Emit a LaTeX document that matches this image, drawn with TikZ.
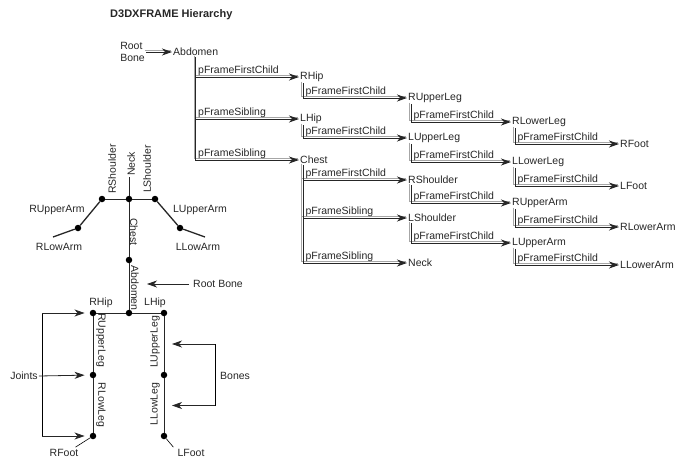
\documentclass[tikz,border=0pt]{standalone}
\usepackage{fontspec}
\setmainfont{Liberation Sans}
\usetikzlibrary{calc,arrows.meta,positioning}

\begin{document}
\begin{tikzpicture}[x=1pt, y=-1pt,
	every node/.style={font=\fontsize{10.5}{12}\selectfont, text=black!85, inner sep=1pt},
	frame/.style={anchor=west},
	lbl/.style={anchor=south west, inner sep=0.5pt, xshift=1.5pt},
	link/.style={draw=black!85, line width=1pt, -{Stealth[length=10pt,width=7pt,inset=3pt]},
		preaction={draw=black!35, line width=0.7pt, -, transform canvas={shift={(-1.4pt,1.4pt)}}}},
	bone/.style={draw=black!85, line width=0.9pt},
	joint/.style={circle, fill=black, inner sep=0pt, minimum size=6.5pt},
	pointer/.style={draw=black!85, line width=0.8pt, -{Stealth[length=10pt,width=7pt,inset=3pt]}}]
	\useasboundingbox (0,0) rectangle (678,458);

	% Title
	\node[anchor=west, font=\bfseries\fontsize{11}{13}\selectfont] (title) at (109,15) {D3DXFRAME Hierarchy};

	% Frame hierarchy
	\node[align=left, anchor=east] (root) at (146,52) {Root\\Bone};
	\node[frame] (abd) at (172,52) {Abdomen};
	\node[frame] (rhip) at (299,77) {RHip};
	\node[frame] (lhip) at (299,119) {LHip};
	\node[frame] (chest) at (299,160) {Chest};
	\node[frame] (rupleg) at (407,98) {RUpperLeg};
	\node[frame] (lupleg) at (407,138) {LUpperLeg};
	\node[frame] (rsho) at (407,180) {RShoulder};
	\node[frame] (lsho) at (407,218) {LShoulder};
	\node[frame] (neck) at (407,263) {Neck};
	\node[frame] (rlowleg) at (511,122) {RLowerLeg};
	\node[frame] (llowleg) at (511,162) {LLowerLeg};
	\node[frame] (ruparm) at (511,203) {RUpperArm};
	\node[frame] (luparm) at (511,243) {LUpperArm};
	\node[frame] (rfoot) at (619,144) {RFoot};
	\node[frame] (lfoot) at (619,186) {LFoot};
	\node[frame] (rlowarm) at (619,227) {RLowerArm};
	\node[frame] (llowarm) at (619,265) {LLowerArm};

	\draw[link] (root.east) -- (abd.west);
	\foreach \c/\l in {rhip/FirstChild, lhip/Sibling, chest/Sibling}
		\draw[link] (abd.south) |- (\c.west) node[lbl, pos=0.5] {pFrame\l};
	\foreach \p/\c/\l in {rhip/rupleg/FirstChild, lhip/lupleg/FirstChild,
		chest/rsho/FirstChild, chest/lsho/Sibling, chest/neck/Sibling,
		rupleg/rlowleg/FirstChild, lupleg/llowleg/FirstChild,
		rsho/ruparm/FirstChild, lsho/luparm/FirstChild,
		rlowleg/rfoot/FirstChild, llowleg/lfoot/FirstChild,
		ruparm/rlowarm/FirstChild, luparm/llowarm/FirstChild}
		\draw[link] ($(\p.south west)+(4,0)$) |- (\c.west) node[lbl, pos=0.5] {pFrame\l};

	% Skeleton joints
	\node[joint] (rsj) at (102,199) {};
	\node[joint] (nkj) at (129,199) {};
	\node[joint] (lsj) at (155,199) {};
	\node[joint] (rej) at (78,228) {};
	\node[joint] (lej) at (180,228) {};
	\node[joint] (chj) at (129,260) {};
	\node[joint] (rhj) at (93,313) {};
	\node[joint] (abj) at (129,313) {};
	\node[joint] (lhj) at (164,313) {};
	\node[joint] (rkj) at (93,375) {};
	\node[joint] (lkj) at (164,375) {};
	\node[joint] (rfj) at (93,436) {};
	\node[joint] (lfj) at (164,436) {};
	\coordinate (ntop) at (129,177);
	\coordinate (rhand) at (53,237);
	\coordinate (lhand) at (205,237);

	% Bones
	\draw[bone] (ntop) -- (nkj) -- (chj) -- (abj);
	\draw[bone] (rsj) -- (nkj) -- (lsj);
	\draw[bone, line width=1.3pt] (rhand) -- (rej) -- (rsj) (lsj) -- (lej) -- (lhand);
	\draw[bone] (rhj) -- (abj) -- (lhj);
	\draw[bone] (rhj) -- (rkj) -- (rfj);
	\draw[bone] (lhj) -- (lkj) -- (lfj);

	% Skeleton labels
	\node[rotate=90] (rsholbl) at (112,169) {RShoulder};
	\node[rotate=90] (necklbl) at (131,164) {Neck};
	\node[rotate=90] (lsholbl) at (147,169) {LShoulder};
	\node (ruparmlbl) at (57,210) {RUpperArm};
	\node (luparmlbl) at (200,210) {LUpperArm};
	\node (rlowarmlbl) at (59,247) {RLowArm};
	\node (llowarmlbl) at (198,247) {LLowArm};
	\node[rotate=-90] (chestlbl) at (134,232) {Chest};
	\node[rotate=-90] (abdlbl) at (135,288) {Abdomen};
	\node (rhiplbl) at (101,303) {RHip};
	\node (lhiplbl) at (155,303) {LHip};
	\node[rotate=-90] (ruplegLbl) at (101,340) {RUpperLeg};
	\node[rotate=-90] (rlowlegLbl) at (101,405) {RLowLeg};
	\node[rotate=90] (luplegLbl) at (155,342) {LUpperLeg};
	\node[rotate=90] (llowlegLbl) at (155,404) {LLowLeg};
	\node (rfootlbl) at (64,453) {RFoot};
	\node (lfootlbl) at (191,453) {LFoot};
	\draw[line width=0.6pt] (rfj) -- ($(rfootlbl.north east)+(-4,-1)$);
	\draw[line width=0.6pt] (lfj) -- ($(lfootlbl.north west)+(-3,-1)$);

	% Root bone pointer
	\node[anchor=west] (rootlbl) at (192,284) {Root Bone};
	\coordinate (abdb) at (129,284);
	\draw[pointer, shorten <=3pt, shorten >=18pt] (rootlbl.west) -- (abdb);

	% Joints bracket
	\node (joints) at (24,376) {Joints};
	\coordinate (jtop) at (42,313);
	\coordinate (jbot) at (42,436);
	\draw[line width=0.8pt] (jtop) -- (jbot);
	\draw[pointer, shorten >=5pt] (jtop) -- (rhj);
	\draw[pointer, shorten >=5pt] (joints.east) -- (rkj);
	\draw[pointer, shorten >=5pt] (jbot) -- (rfj);

	% Bones bracket
	\node[anchor=west] (bones) at (219,376) {Bones};
	\coordinate (lulegb) at ($(lhj)!0.5!(lkj)$);
	\coordinate (llowlegb) at ($(lkj)!0.5!(lfj)$);
	\coordinate (btop) at (215,344);
	\coordinate (bbot) at (215,405.5);
	\draw[line width=0.8pt] (btop) -- (bbot);
	\draw[pointer, shorten >=8pt] (btop) -- (lulegb);
	\draw[pointer, shorten >=8pt] (bbot) -- (llowlegb);
\end{tikzpicture}
\end{document}
